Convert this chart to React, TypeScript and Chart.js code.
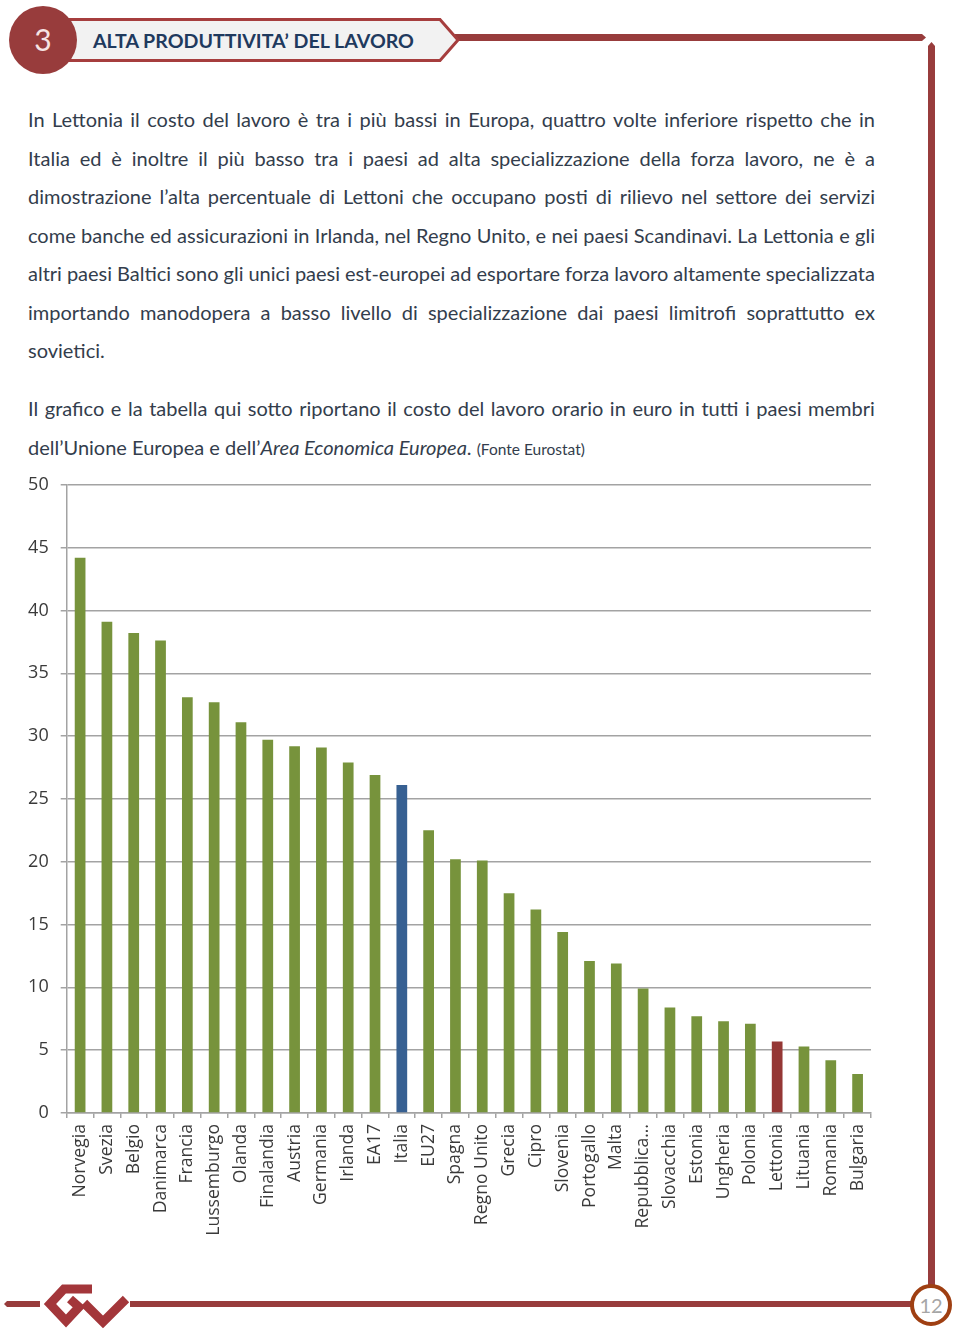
import React, { useEffect, useRef } from "react";
import { Chart, registerables } from "chart.js";

Chart.register(...registerables);

// ---- Data ----
const categories = [
  "Norvegia", "Svezia", "Belgio", "Danimarca", "Francia", "Lussemburgo", "Olanda",
  "Finalandia", "Austria", "Germania", "Irlanda", "EA17", "Italia", "EU27", "Spagna",
  "Regno Unito", "Grecia", "Cipro", "Slovenia", "Portogallo", "Malta", "Repubblica…",
  "Slovacchia", "Estonia", "Ungheria", "Polonia", "Lettonia", "Lituania", "Romania", "Bulgaria",
];
const costoOrario = [
  44.2, 39.1, 38.2, 37.6, 33.1, 32.7, 31.1,
  29.7, 29.2, 29.1, 27.9, 26.9, 26.1, 22.5, 20.2,
  20.1, 17.5, 16.2, 14.4, 12.1, 11.9, 9.9,
  8.4, 7.7, 7.3, 7.1, 5.7, 5.3, 4.2, 3.1,
];
const highlightBlue = ["Italia"];
const highlightRed = ["Lettonia"];
const yTicks = { min: 0, max: 50, step: 5 };

const paragraph1 = [
  "In Lettonia il costo del lavoro è tra i più bassi in Europa, quattro volte inferiore rispetto che in",
  "Italia ed è inoltre il più basso tra i paesi ad alta specializzazione della forza lavoro, ne è a",
  "dimostrazione l’alta percentuale di Lettoni che occupano posti di rilievo nel settore dei servizi",
  "come banche ed assicurazioni in Irlanda, nel Regno Unito, e nei paesi Scandinavi. La Lettonia e gli",
  "altri paesi Baltici sono gli unici paesi est-europei ad esportare forza lavoro altamente specializzata",
  "importando manodopera a basso livello di specializzazione dai paesi limitrofi soprattutto ex",
];
const paragraph1Last = "sovietici.";
const paragraph2 = [
  "Il grafico e la tabella qui sotto riportano il costo del lavoro orario in euro in tutti i paesi membri",
];

const GREEN = "#77933c";
const BLUE = "#376092";
const RED = "#953735";
const BRAND = "#983c3c";
const TEXT = "#333d4c";
const BODY_FONT = "Lato, 'Open Sans', sans-serif";

function JustLine({ text, top }: { text: string; top: number }) {
  const words = text.split(" ");
  return (
    <div
      style={{
        position: "absolute",
        left: 28,
        width: 847,
        top,
        height: 38.5,
        lineHeight: "38.5px",
        display: "flex",
        justifyContent: "space-between",
        whiteSpace: "nowrap",
      }}
    >
      {words.map((w, i) => (
        <span key={i}>{w}</span>
      ))}
    </div>
  );
}

function BarChart() {
  const ref = useRef<HTMLCanvasElement | null>(null);
  useEffect(() => {
    if (!ref.current) return;
    const colors = categories.map((c) =>
      highlightBlue.includes(c) ? BLUE : highlightRed.includes(c) ? RED : GREEN
    );
    const gridColor = "#a3a3a3";
    const chart = new Chart(ref.current, {
      type: "bar",
      data: {
        labels: categories,
        datasets: [
          {
            data: costoOrario,
            backgroundColor: colors,
            barPercentage: 0.4,
            categoryPercentage: 1,
          },
        ],
      },
      options: {
        animation: false,
        responsive: false,
        maintainAspectRatio: false,
        layout: { padding: { top: 13, right: 19, left: 0, bottom: 0 } },
        plugins: { legend: { display: false }, tooltip: { enabled: false } },
        scales: {
          x: {
            grid: {
              display: true,
              drawOnChartArea: false,
              drawTicks: true,
              tickLength: 5,
              color: gridColor,
              lineWidth: 1.5,
              offset: true,
            },
            border: { display: true, color: gridColor, width: 1.5 },
            ticks: {
              minRotation: 90,
              maxRotation: 90,
              autoSkip: false,
              padding: 6,
              color: "#3a3a3a",
              font: { family: "'Open Sans', sans-serif", size: 17.6 },
            },
            afterFit: (s: any) => {
              s.height = 137;
            },
          },
          y: {
            min: yTicks.min,
            max: yTicks.max,
            ticks: {
              stepSize: yTicks.step,
              padding: 12,
              color: "#3a3a3a",
              font: { family: "'Open Sans', sans-serif", size: 18 },
            },
            grid: { color: gridColor, lineWidth: 1.5, tickLength: 6 },
            border: { display: true, color: gridColor, width: 1.5 },
            afterFit: (s: any) => {
              s.width = 46.7;
            },
          },
        },
      },
    } as any);
    return () => chart.destroy();
  }, []);
  return (
    <canvas
      ref={ref}
      width={870}
      height={788}
      style={{ position: "absolute", left: 20, top: 462, width: 870, height: 788 }}
    />
  );
}

export default function App() {
  return (
    <div
      style={{
        position: "absolute",
        left: 0,
        top: 0,
        width: 960,
        height: 1334,
        background: "#fff",
        fontFamily: BODY_FONT,
        fontSize: 20,
        color: TEXT,
        overflow: "hidden",
      }}
    >
      <svg
        width={960}
        height={1334}
        style={{ position: "absolute", left: 0, top: 0 }}
      >
        {/* top line */}
        <polygon points="455,34 922,34 926,37.5 922,41 455,41" fill={BRAND} />
        {/* label box */}
        <polygon
          points="60,19.5 440,19.5 458,40 440,60.5 60,60.5"
          fill="#f2f2f2"
          stroke="#a63e3e"
          strokeWidth={3}
        />
        <circle cx={43} cy={40} r={34} fill={BRAND} />
        <text x={43} y={51} textAnchor="middle" fill="#f6e3e3" fontSize={30} fontFamily={BODY_FONT}>
          3
        </text>
        <text x={93} y={47.5} fill="#1f3a5e" fontSize={19.6} fontWeight={700} fontFamily={BODY_FONT}>
          ALTA PRODUTTIVITA’ DEL LAVORO
        </text>
        {/* right vertical line */}
        <polygon points="928,1290 928,46 931.5,42 935,46 935,1290" fill={BRAND} />
        {/* bottom line */}
        <polygon points="4,1304 7,1301 40,1301 40,1307 7,1307" fill={BRAND} />
        <polygon points="130,1301 914,1301 914,1307 130,1307" fill={BRAND} />
        {/* logo */}
        <g fill="none" stroke="#a3363a" strokeWidth={9} strokeLinejoin="miter">
          <polyline points="92,1289 64,1289 50,1304 66,1321 79,1307 70,1299" />
          <polyline points="84,1303 103,1322 126,1299" />
        </g>
        {/* page number */}
        <circle cx={931} cy={1305} r={19} fill="#fff" stroke="#9f3f12" strokeWidth={4} />
        <text x={931} y={1312.5} textAnchor="middle" fill="#a6a6a6" fontSize={20} fontFamily={BODY_FONT}>
          12
        </text>
      </svg>

      {paragraph1.map((line, i) => (
        <JustLine key={i} text={line} top={100 + i * 38.5} />
      ))}
      <div
        style={{
          position: "absolute",
          left: 28,
          top: 100 + 6 * 38.5,
          lineHeight: "38.5px",
          whiteSpace: "nowrap",
        }}
      >
        {paragraph1Last}
      </div>

      {paragraph2.map((line, i) => (
        <JustLine key={i} text={line} top={389 + i * 38.5} />
      ))}
      <div
        style={{
          position: "absolute",
          left: 28,
          top: 389 + 38.5,
          lineHeight: "38.5px",
          whiteSpace: "nowrap",
        }}
      >
        dell’Unione Europea e dell’<i>Area Economica Europea</i>.{" "}
        <span style={{ fontSize: 15.5 }}>(Fonte Eurostat)</span>
      </div>

      <BarChart />
    </div>
  );
}
